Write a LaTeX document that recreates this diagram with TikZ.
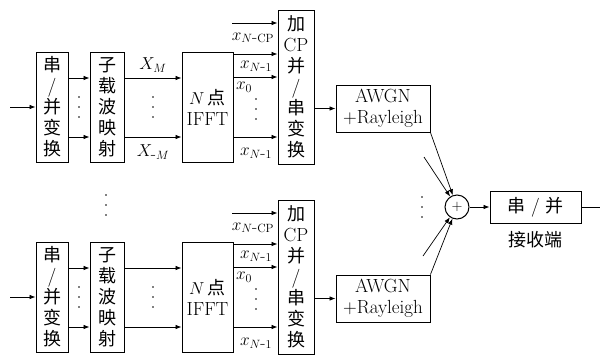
\documentclass[tikz,border=0pt]{standalone}
\usepackage{fontspec}
\newfontfamily\cjk{Noto Sans CJK SC}
\usetikzlibrary{arrows.meta}
\newcommand{\zh}[1]{{\cjk\fontsize{18}{21}\selectfont #1}}
\newcommand{\vdt}[3]{\coordinate (#1) at (#2,#3);
  \foreach \k in {-10,0,10}{\fill ($(#1)+(0,\k)$) circle (0.9pt);}}
\usetikzlibrary{calc}
\begin{document}
\begin{tikzpicture}[x=1pt,y=-1pt,
 blk/.style={draw, line width=0.9pt, inner sep=0pt, align=center, font=\fontsize{19}{21}\selectfont},
 arr/.style={-{Latex[length=6pt,width=4.5pt]}, line width=0.7pt},
 lbl/.style={inner sep=0pt, font=\fontsize{17}{18}\selectfont}]
\useasboundingbox (0,0) rectangle (600,354);
\foreach \r/\dy in {1/0,2/190}{
  \node[blk, minimum width=32pt, minimum height=110pt] (sp\r) at (52,{107+\dy}) {\zh{串}\\/\\\zh{并}\\\zh{变}\\\zh{换}};
  \node[blk, minimum width=34pt, minimum height=110pt] (map\r) at (107,{107+\dy}) {\zh{子}\\\zh{载}\\\zh{波}\\\zh{映}\\\zh{射}};
  \node[blk, minimum width=51pt, minimum height=110pt] (ifft\r) at (207.5,{107+\dy}) {$N$\,\zh{点}\\IFFT};
  \node[blk, minimum width=36pt, minimum height=154pt] (cp\r) at (296,{87+\dy}) {\zh{加}\\CP\\\zh{并}\\/\\\zh{串}\\\zh{变}\\\zh{换}};
  \node[blk, minimum width=94pt, minimum height=47pt] (awgn\r) at (383,{108.5+\dy}) {AWGN\\+Rayleigh};
  \coordinate (in\r) at (10,{107+\dy});
  \coordinate (ya\r) at (0,{78+\dy});
  \coordinate (yb\r) at (0,{137+\dy});
  \coordinate (yc\r) at (0,{54+\dy});
  \coordinate (yd\r) at (0,{77+\dy});
  \coordinate (yt\r) at (232,{23+\dy});
  \draw[arr] (in\r) -- (sp\r);
  \draw[arr] (sp\r.east |- ya\r) -- (map\r.west |- ya\r);
  \draw[arr] (sp\r.east |- yb\r) -- (map\r.west |- yb\r);
  \draw[arr] (map\r.east |- ya\r) -- (ifft\r.west |- ya\r);
  \draw[arr] (map\r.east |- yb\r) -- (ifft\r.west |- yb\r);
  \draw[arr] (yt\r) -- (cp\r.west |- yt\r);
  \draw[arr] (ifft\r.east |- yc\r) -- (cp\r.west |- yc\r);
  \draw[arr] (ifft\r.east |- yd\r) -- (cp\r.west |- yd\r);
  \draw[arr] (ifft\r.east |- yb\r) -- (cp\r.west |- yb\r);
  \draw[arr] (cp\r.east |- awgn\r.west) -- (awgn\r.west);
  \vdt{d1\r}{79}{107+\dy}
  \vdt{d2\r}{153}{107+\dy}
  \vdt{d3\r}{256}{109+\dy}
  \node[lbl] (lcp\r) at (253,{38+\dy}) {$x_{N\mbox{-}\mathrm{CP}}$};
  \node[lbl] (ln1\r) at (256,{66+\dy}) {$x_{N\mbox{-}1}$};
  \node[lbl] (lx0\r) at (244,{87+\dy}) {$x_0$};
  \node[lbl] (ln2\r) at (256,{153+\dy}) {$x_{N\mbox{-}1}$};
}
\node[lbl] (XM) at (153,65) {$X_M$};
\node[lbl] (XmM) at (153,152) {$X_{\mbox{-}M}$};
\vdt{dm}{106}{205}
\vdt{dr}{422}{207}
\node[draw, circle, line width=1pt, minimum size=24pt, inner sep=0pt, font=\fontsize{14}{14}\selectfont] (sum) at (457,207) {$+$};
\node[blk, minimum width=91pt, minimum height=32pt] (ser) at (535.5,207) {\zh{串} / \zh{并}};
\node[inner sep=0pt] (rx) at (535,240) {\zh{接收端}};
\coordinate (s1) at (424,157);
\coordinate (s2) at (423,256);
\coordinate (out) at (600,207);
\draw[arr] (awgn1.south east) -- (sum);
\draw[arr] (s1) -- (sum);
\draw[arr] (s2) -- (sum);
\draw[arr] (awgn2.north east) -- (sum);
\draw[arr] (sum) -- (ser);
\draw[line width=0.9pt] (ser) -- (out);
\end{tikzpicture}
\end{document}
